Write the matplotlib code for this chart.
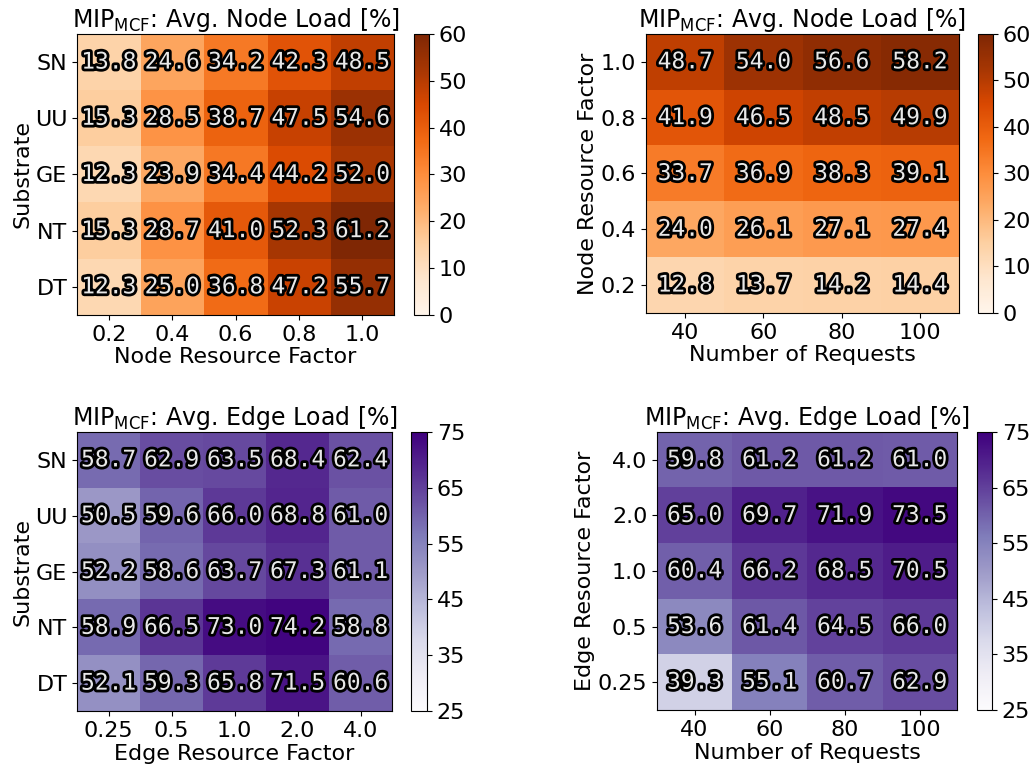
import matplotlib
matplotlib.use('Agg')
import matplotlib.pyplot as plt
import matplotlib.patheffects as pe
import numpy as np

substrates = ['SN', 'UU', 'GE', 'NT', 'DT']
node_factors = ['0.2', '0.4', '0.6', '0.8', '1.0']
edge_factors = ['0.25', '0.5', '1.0', '2.0', '4.0']
num_requests = ['40', '60', '80', '100']

# node load per substrate (rows) and node resource factor (cols)
node_load_substrate = [
    [13.8, 24.6, 34.2, 42.3, 48.5],
    [15.3, 28.5, 38.7, 47.5, 54.6],
    [12.3, 23.9, 34.4, 44.2, 52.0],
    [15.3, 28.7, 41.0, 52.3, 61.2],
    [12.3, 25.0, 36.8, 47.2, 55.7],
]

# node load per node resource factor (rows, 1.0 at top) and number of requests
node_load_requests = [
    [48.7, 54.0, 56.6, 58.2],
    [41.9, 46.5, 48.5, 49.9],
    [33.7, 36.9, 38.3, 39.1],
    [24.0, 26.1, 27.1, 27.4],
    [12.8, 13.7, 14.2, 14.4],
]

edge_load_substrate = [
    [58.7, 62.9, 63.5, 68.4, 62.4],
    [50.5, 59.6, 66.0, 68.8, 61.0],
    [52.2, 58.6, 63.7, 67.3, 61.1],
    [58.9, 66.5, 73.0, 74.2, 58.8],
    [52.1, 59.3, 65.8, 71.5, 60.6],
]

edge_load_requests = [
    [59.8, 61.2, 61.2, 61.0],
    [65.0, 69.7, 71.9, 73.5],
    [60.4, 66.2, 68.5, 70.5],
    [53.6, 61.4, 64.5, 66.0],
    [39.3, 55.1, 60.7, 62.9],
]

FS = 16


def heatmap(fig, rect, cbar_rect, data, xlabels, ylabels, xlabel, ylabel,
            title, cmap, vmin, vmax, cticks):
    ax = fig.add_axes(rect)
    cax = fig.add_axes(cbar_rect)
    data = np.array(data)
    im = ax.imshow(data, cmap=cmap, vmin=vmin, vmax=vmax, aspect='auto',
                   interpolation='nearest')
    ax.set_xticks(range(len(xlabels)))
    ax.set_xticklabels(xlabels, fontsize=FS)
    ax.set_yticks(range(len(ylabels)))
    ax.set_yticklabels(ylabels, fontsize=FS)
    ax.set_xlabel(xlabel, fontsize=FS, labelpad=2)
    ax.set_ylabel(ylabel, fontsize=FS, labelpad=2)
    ax.set_title(title, fontsize=17, pad=3)
    for i in range(data.shape[0]):
        for j in range(data.shape[1]):
            ax.text(j, i, '%.1f' % data[i, j], ha='center', va='center',
                    color='#e8e8e8', fontsize=16.5,
                    family='DejaVu Sans Mono',
                    path_effects=[pe.withStroke(linewidth=4, foreground='black')])
    cb = fig.colorbar(im, cax=cax, ticks=cticks)
    cb.ax.tick_params(labelsize=FS)
    return ax


fig = plt.figure(figsize=(10.30, 7.69), dpi=100)

node_title = r'MIP$_{\mathrm{MCF}}$: Avg. Node Load [%]'
edge_title = r'MIP$_{\mathrm{MCF}}$: Avg. Edge Load [%]'

heatmap(fig, [0.0748, 0.5904, 0.3078, 0.3654], [0.4019, 0.5904, 0.0146, 0.3654],
        node_load_substrate, node_factors, substrates,
        'Node Resource Factor', 'Substrate', node_title,
        'Oranges', 0, 60, range(0, 61, 10))

heatmap(fig, [0.6272, 0.5930, 0.3039, 0.3628], [0.9495, 0.5930, 0.0146, 0.3628],
        node_load_requests, num_requests, node_factors[::-1],
        'Number of Requests', 'Node Resource Factor', node_title,
        'Oranges', 0, 60, range(0, 61, 10))

heatmap(fig, [0.0748, 0.0754, 0.3058, 0.3628], [0.3990, 0.0754, 0.0155, 0.3628],
        edge_load_substrate, edge_factors, substrates,
        'Edge Resource Factor', 'Substrate', edge_title,
        'Purples', 25, 75, range(25, 76, 10))

heatmap(fig, [0.6379, 0.0767, 0.2913, 0.3615], [0.9485, 0.0767, 0.0146, 0.3615],
        edge_load_requests, num_requests, edge_factors[::-1],
        'Number of Requests', 'Edge Resource Factor', edge_title,
        'Purples', 25, 75, range(25, 76, 10))

fig.savefig('out.png', dpi=100)
